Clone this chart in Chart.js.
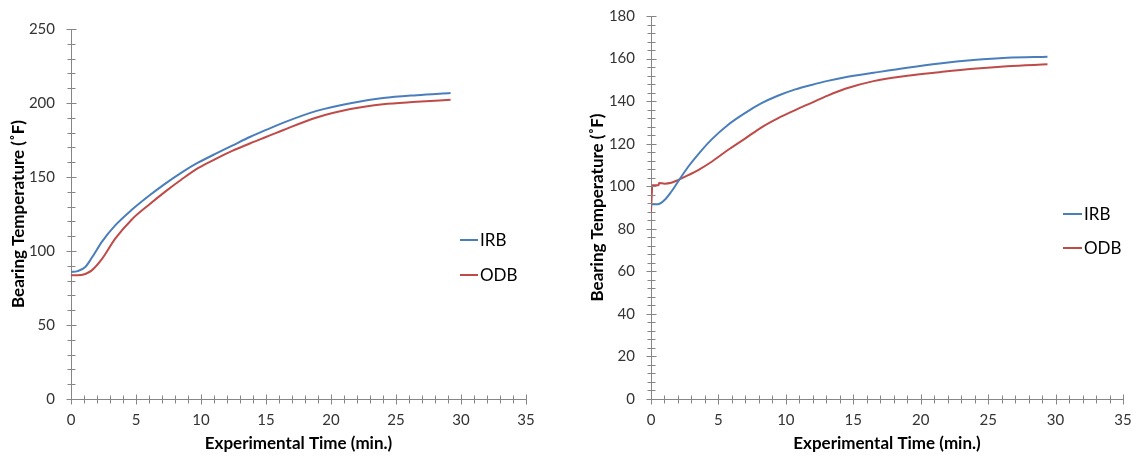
<!DOCTYPE html>
<html><head><meta charset="utf-8">
<script src="https://cdn.jsdelivr.net/npm/chart.js@4/dist/chart.umd.min.js"></script>
<style>
html,body{margin:0;padding:0;background:#fff;}
#wrap{position:relative;width:1133px;height:457px;overflow:hidden;}
.box{position:absolute;top:0;height:457px;}
#b1{left:0;width:566px;} #b2{left:566px;width:567px;}
</style></head><body>
<div id="wrap"><div class="box" id="b1"><canvas id="c1"></canvas></div><div class="box" id="b2"><canvas id="c2"></canvas></div></div>
<script>
// ---- data ----
const seriesNames = ['IRB', 'ODB'];
const xTickLabels = [0, 5, 10, 15, 20, 25, 30, 35];
const leftYTickLabels = [0, 50, 100, 150, 200, 250];
const rightYTickLabels = [0, 20, 40, 60, 80, 100, 120, 140, 160, 180];

const leftTime = [0, 0.5, 1.1, 1.6, 2.4, 3.4, 4.7, 6, 7.2, 8.5, 9.8, 11.1, 12.4, 13.8, 15, 16.3, 18.9, 21.5, 24, 26.6, 29.2];
const leftIRB  = [85.8, 86.4, 89.2, 95.4, 106.5, 117.3, 128, 137.3, 145.2, 153, 159.8, 165.6, 171.2, 177.2, 181.8, 186.6, 194.7, 199.9, 203.3, 205.3, 206.8];
const leftODB  = [83.6, 83.6, 84.5, 86.9, 94.8, 108.3, 121.5, 131.3, 139.8, 148.3, 156.1, 162.1, 167.6, 172.8, 177, 181.6, 190.2, 195.9, 199.2, 200.8, 202.2];

const rightTimeIRB = [0, 0.5, 1.0, 1.5, 2.0, 2.8, 3.5, 4.5, 5.7, 7, 8.2, 9.4, 10.7, 11.9, 13.1, 14.4, 16.5, 19, 21.4, 23.9, 26.4, 29.4];
const rightIRB     = [91.5, 91.5, 93.5, 97.4, 102.1, 109.5, 115, 122, 128.8, 134.5, 139, 142.5, 145.5, 147.6, 149.5, 151.2, 153.3, 155.7, 157.7, 159.3, 160.4, 160.9];
const rightTimeODB = [0, 0.05, 0.1, 0.55, 0.6, 1.0, 1.5, 2.0, 2.8, 3.5, 4.5, 5.7, 7, 8.2, 9.4, 10.7, 11.9, 13.1, 14.4, 16.5, 19, 21.4, 23.9, 26.4, 29.4];
const rightODB     = [88, 95, 100.4, 100.4, 101.5, 101.2, 101.6, 102.9, 105.3, 107.6, 111.5, 117, 122.5, 127.7, 131.9, 135.8, 139.2, 142.6, 145.8, 149.4, 151.9, 153.6, 155.2, 156.4, 157.3];

// ---- styling ----
const FONT = 'Lato';
const BLUE = '#4A7EBB', RED = '#BE4B48';
const AXIS = '#868686';

function pts(xs, ys) { return xs.map((x, i) => ({x: x, y: ys[i]})); }

const crossTicks = {
  id: 'crossTicks',
  afterDraw(chart, args, o) {
    const ctx = chart.ctx, ca = chart.chartArea;
    const xs = chart.scales.x, ys = chart.scales.y;
    ctx.save();
    ctx.strokeStyle = AXIS; ctx.lineWidth = 1;
    const ax = Math.round(ca.left) + 0.5;
    ys.ticks.forEach(t => {
      const p = Math.round(ys.getPixelForValue(t.value)) + 0.5;
      const len = o.yMajors.includes(t.value) ? 5 : 4;
      ctx.beginPath(); ctx.moveTo(ax - len, p); ctx.lineTo(ax + len, p); ctx.stroke();
    });
    const ay = Math.round(ca.bottom) + 0.5;
    xs.ticks.forEach(t => {
      const p = Math.round(xs.getPixelForValue(t.value)) + 0.5;
      const len = o.xMajors.includes(t.value) ? 5 : 4;
      ctx.beginPath(); ctx.moveTo(p, ay - len); ctx.lineTo(p, ay + len); ctx.stroke();
    });
    ctx.restore();
  }
};

const sideLegend = {
  id: 'sideLegend',
  afterDraw(chart, args, o) {
    const ctx = chart.ctx;
    ctx.save();
    ctx.font = '17px ' + FONT;
    ctx.textBaseline = 'middle';
    ctx.textAlign = 'left';
    chart.data.datasets.forEach((ds, i) => {
      const y = o.y + i * o.dy;
      ctx.strokeStyle = ds.borderColor; ctx.lineWidth = 2;
      ctx.beginPath(); ctx.moveTo(o.x, y); ctx.lineTo(o.x + o.len, y); ctx.stroke();
      ctx.fillStyle = '#000';
      ctx.fillText(ds.label, o.x + o.len + 2, y + 1);
    });
    ctx.restore();
  }
};

function makeChart(id, dsData, yMax, yStep, yMajors, cfg) {
  const datasets = dsData.map((d, i) => ({
    label: seriesNames[i], data: d, borderColor: i === 0 ? BLUE : RED,
    backgroundColor: i === 0 ? BLUE : RED, borderWidth: 2, pointRadius: 0,
    fill: false, cubicInterpolationMode: 'monotone'
  }));
  return new Chart(document.getElementById(id), {
    type: 'line',
    data: { datasets },
    plugins: [crossTicks, sideLegend],
    options: {
      responsive: true, maintainAspectRatio: false, animation: false, devicePixelRatio: 1,
      layout: { padding: { left: 0, top: cfg.top, right: cfg.right, bottom: 0 } },
      plugins: {
        legend: { display: false }, tooltip: { enabled: false },
        crossTicks: { xMajors: xTickLabels, yMajors: yMajors },
        sideLegend: cfg.legend
      },
      scales: {
        x: {
          type: 'linear', min: 0, max: 35,
          ticks: { stepSize: 1, autoSkip: false, maxRotation: 0, padding: 12, color: '#333',
                   font: { family: FONT, size: 15 },
                   callback: v => xTickLabels.includes(v) ? String(v) : '' },
          grid: { display: false, drawTicks: false },
          border: { display: true, color: AXIS, width: 1 },
          title: { display: true, text: 'Experimental Time (min.)', color: '#000',
                   font: { family: FONT, size: 17, weight: 'bold' }, padding: { top: 0, bottom: 3 } },
          afterFit: s => { s.height = 58; s.paddingLeft = 0; s.paddingRight = 0; }
        },
        y: {
          type: 'linear', min: 0, max: yMax,
          ticks: { stepSize: yStep, autoSkip: false, padding: 16, color: '#333',
                   font: { family: FONT, size: 15 },
                   callback: v => yMajors.includes(v) ? String(v) : '' },
          grid: { display: false, drawTicks: false },
          border: { display: true, color: AXIS, width: 1 },
          title: { display: true, text: 'Bearing Temperature (˚F)', color: '#000',
                   font: { family: FONT, size: 17, weight: 'bold' }, padding: { top: cfg.yTitlePad, bottom: 0 } },
          afterFit: s => { s.width = cfg.yWidth; s.paddingTop = 0; s.paddingBottom = 0; }
        }
      }
    }
  });
}

makeChart('c1', [pts(leftTime, leftIRB), pts(leftTime, leftODB)], 250, 10, leftYTickLabels,
  { top: 29, right: 40, yWidth: 71, yTitlePad: 8, legend: { x: 460, y: 240, dy: 35, len: 18 } });
makeChart('c2', [pts(rightTimeIRB, rightIRB), pts(rightTimeODB, rightODB)], 180, 4, rightYTickLabels,
  { top: 16, right: 10, yWidth: 85, yTitlePad: 21, legend: { x: 497, y: 214, dy: 34, len: 19 } });
</script>
</body></html>
